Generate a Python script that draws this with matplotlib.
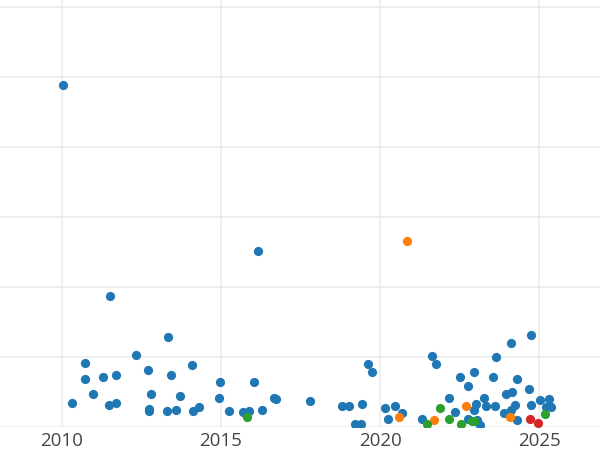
import matplotlib
matplotlib.use("Agg")
import matplotlib.pyplot as plt

# Series data: (year, value)
blue_year = [2010.03, 2011.51, 2016.16, 2010.32, 2010.73, 2010.71, 2010.97, 2011.30, 2011.69, 2011.48,
             2011.70, 2012.34, 2012.71, 2012.79, 2012.74, 2012.74, 2013.32, 2013.43, 2013.29, 2013.58,
             2013.72, 2014.08, 2014.11, 2014.32, 2014.98, 2014.95, 2015.24, 2015.70, 2015.87, 2016.04,
             2016.30, 2016.67, 2016.73, 2017.80, 2018.81, 2019.03, 2019.42, 2019.22, 2019.41, 2019.61,
             2019.76, 2020.16, 2020.25, 2020.48, 2020.69, 2021.31, 2021.62, 2021.75, 2022.17, 2022.36,
             2022.53, 2022.77, 2022.96, 2023.01, 2022.97, 2022.77, 2023.05, 2023.16, 2023.28, 2023.32,
             2023.56, 2023.62, 2023.65, 2024.12, 2024.75, 2023.95, 2024.16, 2024.30, 2024.25, 2024.11,
             2023.91, 2024.32, 2024.69, 2024.76, 2025.02, 2025.32, 2025.22, 2025.38]
blue_value = [48.9, 18.7, 25.1, 3.4, 9.1, 6.8, 4.7, 7.2, 7.5, 3.2,
              3.4, 10.3, 8.2, 4.7, 2.6, 2.3, 12.9, 7.5, 2.3, 2.4,
              4.4, 8.8, 2.3, 2.8, 6.4, 4.1, 2.3, 2.1, 2.3, 6.4,
              2.5, 4.2, 4.0, 3.7, 3.0, 3.0, 3.3, 0.5, 0.5, 9.0,
              7.8, 2.7, 1.2, 3.0, 2.0, 1.2, 10.2, 9.0, 4.1, 2.1,
              7.2, 5.9, 7.9, 3.3, 2.4, 1.1, 1.0, 0.3, 4.2, 3.0,
              7.2, 3.0, 10.0, 12.0, 13.2, 4.7, 5.0, 6.9, 3.2, 2.4,
              2.0, 1.0, 5.5, 3.2, 3.9, 4.0, 2.9, 2.8]

orange_year = [2020.85, 2020.59, 2021.71, 2022.70, 2024.10]
orange_value = [26.6, 1.5, 1.0, 3.0, 1.5]

green_year = [2015.81, 2021.48, 2021.89, 2022.17, 2022.56, 2022.89, 2022.96, 2025.19]
green_value = [1.4, 0.5, 2.7, 1.1, 0.5, 0.9, 0.9, 1.9]

red_year = [2024.72, 2024.96]
red_value = [1.1, 0.6]

x_ticks = [2010, 2015, 2020, 2025]
y_ticks = [0, 10, 20, 30, 40, 50, 60]

plt.rcParams['font.family'] = ['Open Sans', 'DejaVu Sans']

fig = plt.figure(figsize=(6, 4.5), dpi=100)
ax = fig.add_axes([0, 1 - 427 / 450, 1, 427 / 450])

s = 44
ax.scatter(blue_year, blue_value, s=s, color="#1f77b4", linewidths=0, zorder=3)
ax.scatter(orange_year, orange_value, s=s, color="#ff7f0e", linewidths=0, zorder=4)
ax.scatter(green_year, green_value, s=s, color="#2ca02c", linewidths=0, zorder=5)
ax.scatter(red_year, red_value, s=s, color="#d62728", linewidths=0, zorder=6)

ax.set_xlim(2010 - 62 / 31.8, 2010 + 538 / 31.8)
ax.set_ylim(0, 427 / 7)
ax.set_xticks(x_ticks)
ax.set_xticklabels([str(t) for t in x_ticks])
ax.set_yticks(y_ticks)
ax.set_yticklabels([])
ax.tick_params(axis="both", length=0)
ax.tick_params(axis="x", labelsize=13.5, labelcolor="#444444", pad=3.6)
ax.grid(True, color="#ebebeb", linewidth=1.1, zorder=0)
ax.set_axisbelow(True)
for sp in ax.spines.values():
    sp.set_visible(False)

fig.savefig("out.png", dpi=100)
